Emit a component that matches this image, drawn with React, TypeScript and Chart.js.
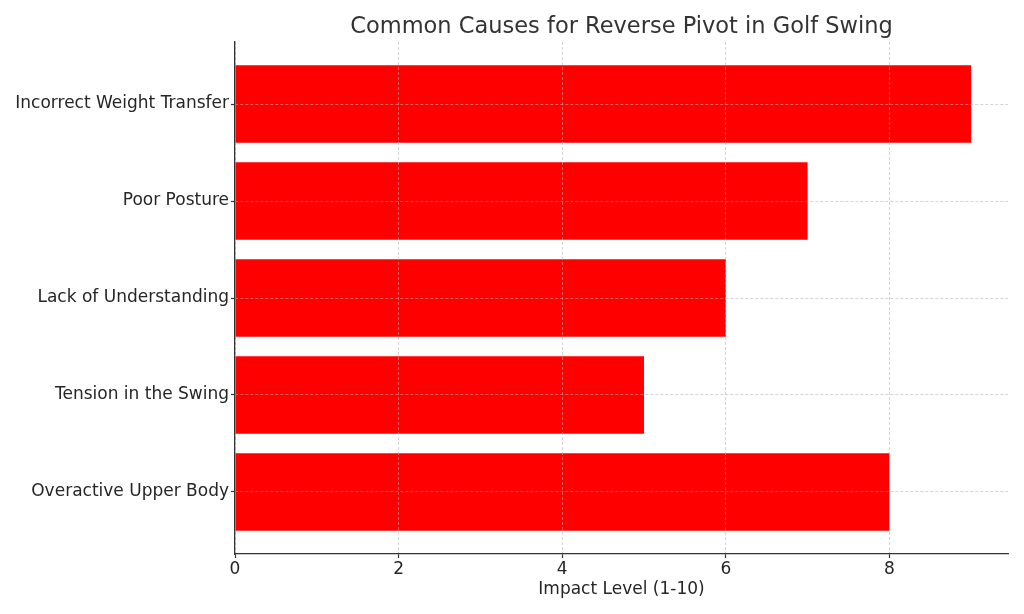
import React, { useEffect, useRef } from "react";
import { Chart, registerables } from "chart.js";

Chart.register(...registerables);

const categories = [
  "Incorrect Weight Transfer",
  "Poor Posture",
  "Lack of Understanding",
  "Tension in the Swing",
  "Overactive Upper Body",
];
const impactValues = [9, 7, 6, 5, 8];
const xTicks = [0, 2, 4, 6, 8];
const chartTitle = "Common Causes for Reverse Pivot in Golf Swing";
const xAxisTitle = "Impact Level (1-10)";

export default function App() {
  const ref = useRef<HTMLCanvasElement | null>(null);
  useEffect(() => {
    if (!ref.current) return;
    const font = "'DejaVu Sans', sans-serif";
    const gridColor = "rgba(176,176,176,0.55)";
    const chart = new Chart(ref.current, {
      type: "bar",
      data: {
        datasets: [
          {
            data: impactValues.map((v, i) => ({ x: v, y: i })),
            backgroundColor: "#ff0000",
            borderWidth: 0,
            barPercentage: 0.8,
            categoryPercentage: 1,
          },
        ],
      },
      options: {
        indexAxis: "y",
        responsive: false,
        animation: false,
        layout: { padding: { top: 0, right: 16, left: 0, bottom: 0 } },
        plugins: {
          legend: { display: false },
          tooltip: { enabled: false },
          title: {
            display: true,
            text: chartTitle,
            fullSize: false,
            color: "#333333",
            font: { family: font, size: 22.5, weight: "normal" },
            padding: { top: 14, bottom: 1 },
          },
        },
        scales: {
          x: {
            type: "linear",
            min: 0,
            max: 9.45,
            offset: false,
            afterBuildTicks: (scale: any) => {
              scale.ticks = xTicks.map((v) => ({ value: v }));
            },
            afterFit: (scale: any) => {
              scale.height = 60;
            },
            ticks: {
              includeBounds: false,
              color: "#262626",
              font: { family: font, size: 17 },
              padding: 1,
              maxRotation: 0,
            },
            grid: {
              offset: false,
              z: 1,
              color: gridColor,
              lineWidth: 1,
              tickLength: 4,
              tickColor: "#333333",
              tickWidth: 1.2,
              tickBorderDash: [],
            } as any,
            border: { display: true, color: "#333333", width: 1.3, dash: [3, 2], z: 2 } as any,
            title: {
              display: true,
              text: xAxisTitle,
              color: "#262626",
              font: { family: font, size: 17 },
              padding: { top: 0, bottom: 14 },
            },
          },
          y: {
            type: "linear",
            min: -0.64,
            max: 4.64,
            reverse: true,
            offset: false,
            afterBuildTicks: (scale: any) => {
              scale.ticks = categories.map((_, i) => ({ value: i }));
            },
            afterFit: (scale: any) => {
              scale.width = 235;
            },
            ticks: {
              includeBounds: false,
              color: "#262626",
              font: { family: font, size: 17 },
              padding: 2,
              callback: (v: any) => categories[Number(v)] ?? "",
            },
            grid: {
              offset: false,
              z: 1,
              color: gridColor,
              lineWidth: 1,
              tickLength: 4,
              tickColor: "#333333",
              tickWidth: 1.2,
              tickBorderDash: [],
            } as any,
            border: { display: true, color: "#333333", width: 1.3, dash: [3, 2], z: 2 } as any,
          },
        },
      } as any,
    });
    return () => chart.destroy();
  }, []);
  return (
    <div style={{ position: "fixed", left: 0, top: 0, width: 1024, height: 614, background: "#fff" }}>
      <canvas ref={ref} width={1024} height={614} />
    </div>
  );
}
